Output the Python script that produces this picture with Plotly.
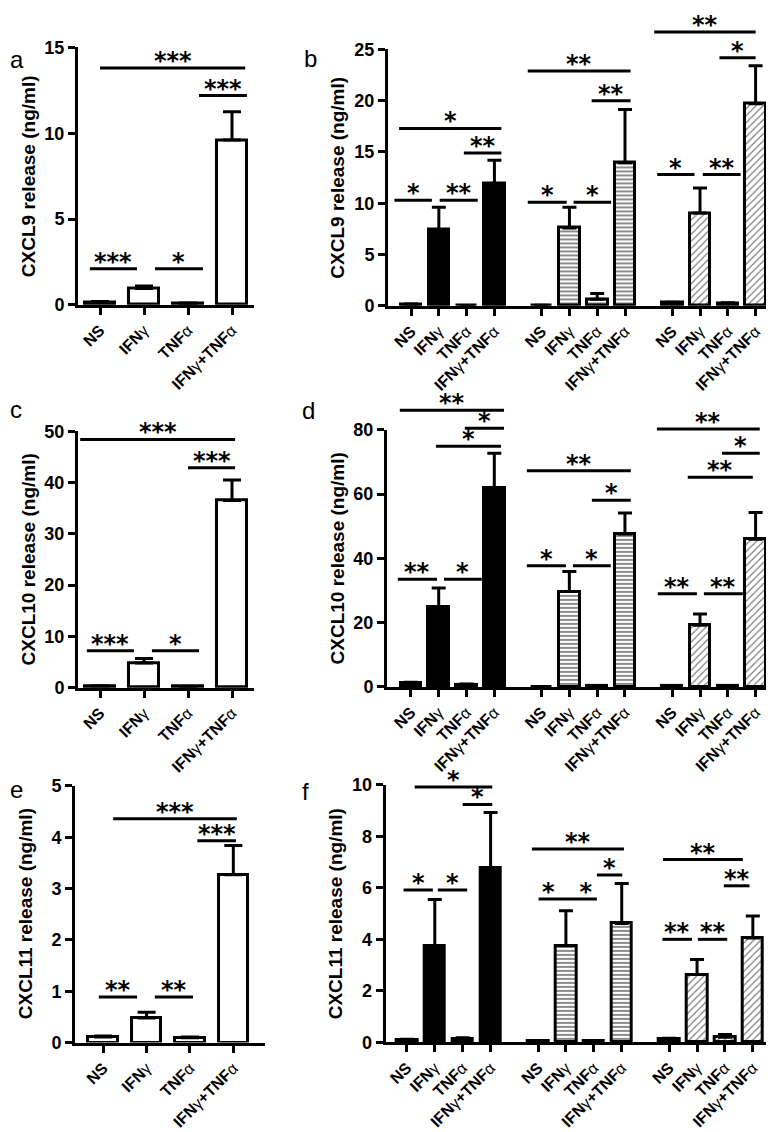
import plotly.graph_objects as go

W, H = 774, 1132

# ---------------- data ----------------
categories = ["NS", "IFNγ", "TNFα", "IFNγ+TNFα"]
tick_labels = ["<b>NS</b>", "<b>IFN</b>γ", "<b>TNF</b>α", "<b>IFN</b>γ<b>+TNF</b>α"]

# panel a : CXCL9 (single donor)
a_mean = [0.15, 0.95, 0.08, 9.6]
a_sem = [0.05, 0.15, 0.03, 1.65]
# panel c : CXCL10
c_mean = [0.3, 4.8, 0.2, 36.5]
c_sem = [0.05, 0.9, 0.05, 4.0]
# panel e : CXCL11
e_mean = [0.11, 0.48, 0.095, 3.27]
e_sem = [0.02, 0.11, 0.015, 0.57]

# panel b : CXCL9, three groups
b_g1_mean = [0.15, 7.45, 0.0, 11.9]
b_g1_sem = [0.03, 2.15, 0.0, 2.3]
b_g2_mean = [0.05, 7.6, 0.65, 13.95]
b_g2_sem = [0.0, 2.0, 0.55, 5.2]
b_g3_mean = [0.3, 9.05, 0.25, 19.7]
b_g3_sem = [0.05, 2.45, 0.05, 3.7]

# panel d : CXCL10, three groups
d_g1_mean = [1.2, 24.8, 0.7, 61.8]
d_g1_sem = [0.3, 6.0, 0.2, 10.9]
d_g2_mean = [0.05, 29.7, 0.3, 47.6]
d_g2_sem = [0.0, 6.2, 0.0, 6.5]
d_g3_mean = [0.2, 19.2, 0.3, 46.0]
d_g3_sem = [0.0, 3.5, 0.0, 8.3]

# panel f : CXCL11, three groups
f_g1_mean = [0.1, 3.75, 0.15, 6.78]
f_g1_sem = [0.02, 1.8, 0.03, 2.15]
f_g2_mean = [0.05, 3.75, 0.05, 4.62]
f_g2_sem = [0.0, 1.36, 0.0, 1.55]
f_g3_mean = [0.12, 2.63, 0.2, 4.05]
f_g3_sem = [0.04, 0.59, 0.1, 0.86]

# significance brackets: (x0, x1, y, label) in axis units
a_sig = [(0.0, 3.3, 13.8, "***"), (2.25, 3.34, 12.2, "***"),
         (-0.23, 0.84, 2.1, "***"), (1.25, 2.34, 2.1, "*")]
c_sig = [(-0.45, 3.07, 48.4, "***"), (2.0, 3.07, 42.9, "***"),
         (-0.3, 0.77, 7.2, "***"), (1.18, 2.25, 7.2, "*")]
e_sig = [(0.23, 3.08, 4.36, "***"), (2.17, 3.06, 3.93, "***"),
         (-0.1, 0.78, 0.89, "**"), (1.19, 2.07, 0.89, "**")]
b_sig = [(-0.43, 3.25, 17.3, "*"), (1.9, 3.25, 14.9, "**"),
         (-0.6, 0.75, 10.3, "*"), (1.03, 2.4, 10.3, "**"),
         (4.2, 7.9, 22.9, "**"), (6.5, 7.9, 20.0, "**"),
         (4.2, 5.6, 10.1, "*"), (5.85, 7.2, 10.1, "*"),
         (8.75, 12.4, 26.7, "**"), (11.1, 12.4, 24.2, "*"),
         (8.86, 10.2, 12.8, "*"), (10.5, 11.86, 12.8, "**")]
d_sig = [(-0.4, 3.35, 86.1, "**"), (1.94, 3.35, 80.5, "*"), (0.9, 3.24, 74.9, "*"),
         (-0.47, 0.94, 33.5, "**"), (1.19, 2.55, 33.5, "*"),
         (4.17, 7.91, 67.3, "**"), (6.51, 7.91, 58.1, "*"),
         (4.17, 5.58, 37.7, "*"), (5.83, 7.19, 37.7, "*"),
         (8.85, 12.55, 80.3, "**"), (11.19, 12.55, 72.7, "*"), (9.96, 12.3, 65.3, "**"),
         (8.88, 10.29, 29.0, "**"), (10.54, 11.94, 29.0, "**")]
f_sig = [(0.28, 3.06, 9.92, "*"), (2.0, 3.06, 9.24, "*"),
         (-0.12, 0.93, 5.92, "*"), (1.11, 2.16, 5.92, "*"),
         (4.48, 7.78, 7.51, "**"), (6.81, 7.72, 6.5, "*"),
         (4.72, 6.81, 5.57, "*\u00a0\u00a0\u00a0*"),
         (9.18, 12.04, 7.1, "**"), (11.36, 12.28, 6.08, "**"),
         (9.16, 10.22, 4.0, "**"), (10.43, 11.48, 4.0, "**")]

# ---------------- layout geometry (pixels) ----------------
GROUP_OFFSET = 4.7
FONT = "Arial, Liberation Sans, sans-serif"

panels = {
    # name: (axis suffix, x px range, y px range (top, bottom), x range, y max, y ticks, title)
    "a": ("", (70, 246), (30, 292), (-0.5, 3.5), 15, [0, 5, 10, 15], "CXCL9 release (ng/ml)"),
    "b": ("2", (380, 774), (32, 293), (-0.83, 13.35), 25, [0, 5, 10, 15, 20, 25], "CXCL9 release (ng/ml)"),
    "c": ("3", (70, 246), (420.7, 681.7), (-0.5, 3.5), 50, [0, 10, 20, 30, 40, 50], "CXCL10 release (ng/ml)"),
    "d": ("4", (379, 774), (419.3, 681), (-0.86, 13.35), 80, [0, 20, 40, 60, 80], "CXCL10 release (ng/ml)"),
    "e": ("5", (67, 257), (781.7, 1043), (-0.65, 3.73), 5, [0, 1, 2, 3, 4, 5], "CXCL11 release (ng/ml)"),
    "f": ("6", (377.7, 768), (780.7, 1042.7), (-0.76, 13.23), 10, [0, 2, 4, 6, 8, 10], "CXCL11 release (ng/ml)"),
}
letter_pos = {"a": (0, 42), "b": (294, 41), "c": (0, 399), "d": (292, 400), "e": (0, 785), "f": (292, 787)}

fig = go.Figure()

ebar_common = dict(type="data", symmetric=False, thickness=3, color="black")

def add_bars(suffix, x, mean, sem, style, width, cap):
    marker = dict(color="white", line=dict(color="black", width=3))
    if style == "solid":
        marker["color"] = "black"
    elif style == "hstripe":
        marker["pattern"] = dict(shape="-", fgcolor="black", bgcolor="white", size=4, solidity=0.45)
    elif style == "diag":
        marker["pattern"] = dict(shape="/", fgcolor="black", bgcolor="white", size=5, solidity=0.25)
    fig.add_trace(go.Bar(
        x=x, y=mean, width=width, marker=marker,
        error_y=dict(array=sem, arrayminus=[0] * len(sem), width=cap, **ebar_common),
        xaxis="x" + suffix, yaxis="y" + suffix, showlegend=False,
    ))

# single-donor panels
for name, mean, sem in (("a", a_mean, a_sem), ("c", c_mean, c_sem), ("e", e_mean, e_sem)):
    add_bars(panels[name][0], list(range(len(categories))), mean, sem, "open", 0.68, 9)

# three-group panels
styles = ["solid", "hstripe", "diag"]
for name, groups in (("b", [(b_g1_mean, b_g1_sem), (b_g2_mean, b_g2_sem), (b_g3_mean, b_g3_sem)]),
                     ("d", [(d_g1_mean, d_g1_sem), (d_g2_mean, d_g2_sem), (d_g3_mean, d_g3_sem)]),
                     ("f", [(f_g1_mean, f_g1_sem), (f_g2_mean, f_g2_sem), (f_g3_mean, f_g3_sem)])):
    for g, (mean, sem) in enumerate(groups):
        xs = [g * GROUP_OFFSET + i for i in range(len(categories))]
        add_bars(panels[name][0], xs, mean, sem, styles[g], 0.74, 7)

layout = dict(width=W, height=H, margin=dict(l=0, r=0, t=0, b=0),
              paper_bgcolor="white", plot_bgcolor="white", showlegend=False,
              bargap=0, font=dict(family=FONT, color="black"))
shapes, annotations = [], []

axis_common = dict(showgrid=False, zeroline=False, showline=True, linecolor="black", linewidth=3,
                   ticks="outside", tickcolor="black", tickwidth=3, ticklen=7)

for name, (suffix, (px0, px1), (pt, pb), xr, ymax, yticks, title) in panels.items():
    xdom = [px0 / W, px1 / W]
    ydom = [1 - pb / H, 1 - pt / H]
    if name in ("a", "c", "e"):
        tv = list(range(len(categories)))
        tt = tick_labels
    else:
        tv = [g * GROUP_OFFSET + i for g in range(3) for i in range(len(categories))]
        tt = tick_labels * 3
    layout["xaxis" + suffix] = dict(domain=xdom, range=list(xr), anchor="y" + suffix,
                                    tickvals=tv, ticktext=tt, tickangle=-45,
                                    tickfont=dict(size=16, family=FONT), **axis_common)
    layout["yaxis" + suffix] = dict(domain=ydom, range=[0, ymax], anchor="x" + suffix,
                                    tickvals=yticks, tickfont=dict(size=18, family=FONT, weight="bold"),
                                    **axis_common)
    # y title
    annotations.append(dict(text="<b>" + title + "</b>", textangle=-90, xref="paper", yref="paper",
                            x=(px0 - 50) / W, y=1 - (pt + pb) / 2 / H, xanchor="center", yanchor="middle",
                            showarrow=False, font=dict(size=19, family=FONT)))
    # panel letter
    lx, ly = letter_pos[name]
    annotations.append(dict(text=name, xref="paper", yref="paper", x=lx / W, y=1 - ly / H,
                            xanchor="left", yanchor="middle", showarrow=False,
                            font=dict(size=24, family=FONT)))

sig_map = {"a": a_sig, "b": b_sig, "c": c_sig, "d": d_sig, "e": e_sig, "f": f_sig}
for name, sigs in sig_map.items():
    suffix = panels[name][0]
    ymax = panels[name][4]
    for x0, x1, yv, lab in sigs:
        yd = yv / ymax
        shapes.append(dict(type="line", xref="x" + suffix, yref="y" + suffix + " domain",
                           x0=x0, x1=x1, y0=yd, y1=yd, line=dict(color="black", width=3)))
        annotations.append(dict(text="<b>" + lab + "</b>", xref="x" + suffix, yref="y" + suffix + " domain",
                                x=(x0 + x1) / 2, y=yd, xanchor="center", yanchor="bottom", yshift=-9,
                                showarrow=False, font=dict(size=24, family="DejaVu Sans")))

layout["shapes"] = shapes
layout["annotations"] = annotations
fig.update_layout(**layout)
fig.write_html("out.html")
